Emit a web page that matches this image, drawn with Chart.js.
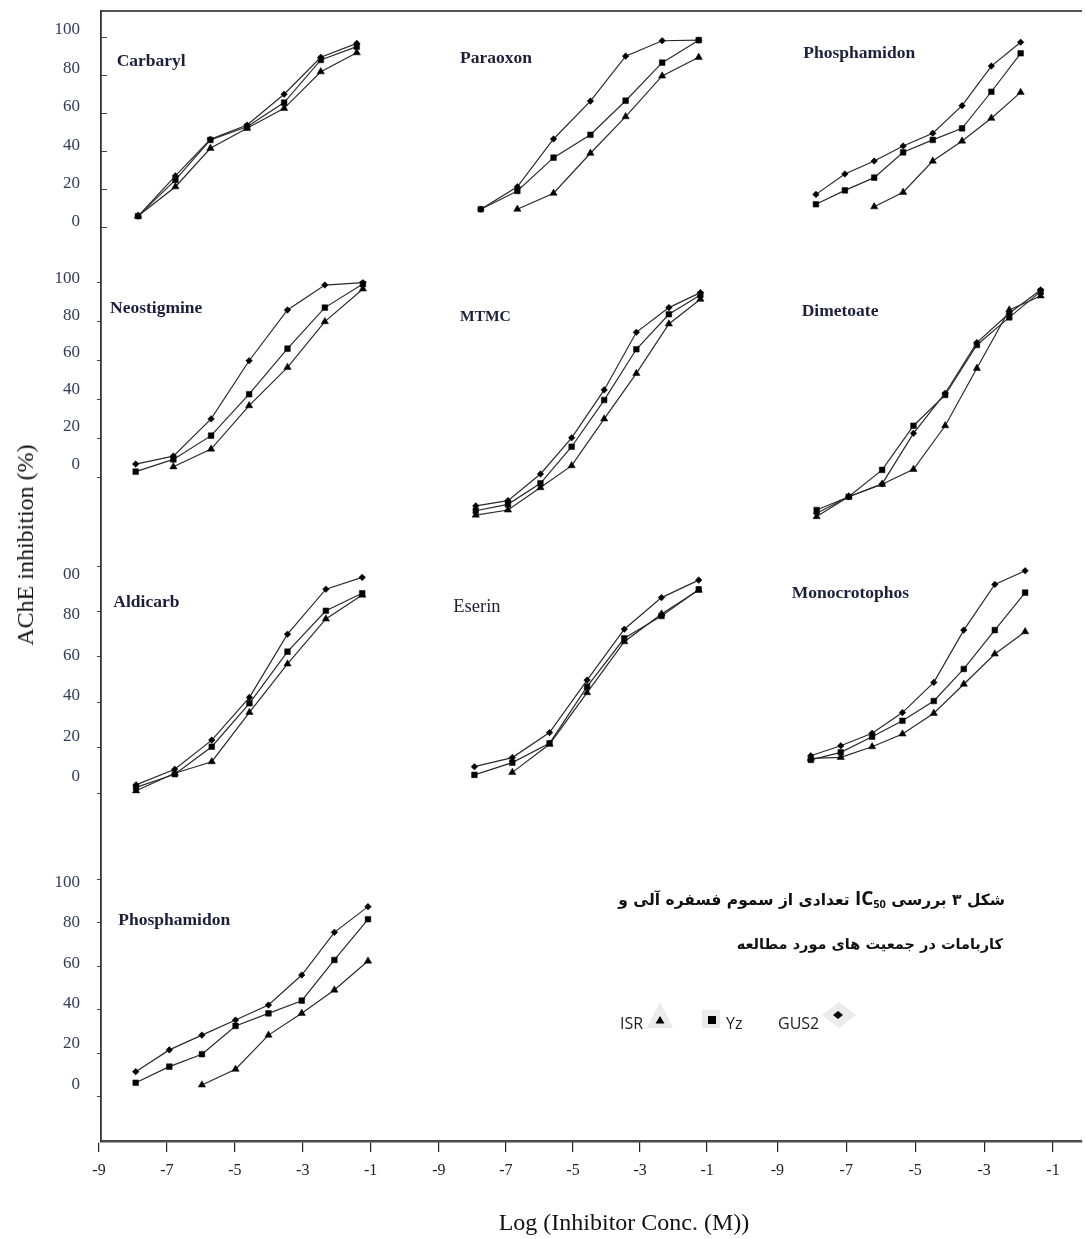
<!DOCTYPE html>
<html>
<head>
<meta charset="utf-8">
<script src="https://cdn.jsdelivr.net/npm/chart.js@4.4.1/dist/chart.umd.min.js"></script>
<style>
html,body{margin:0;padding:0;background:#fff;}
#wrap{position:relative;width:1086px;height:1239px;overflow:hidden;background:#fff;}
#c{position:absolute;left:0;top:0;}
.pname{position:absolute;font-family:"Liberation Serif","Times New Roman",serif;font-weight:bold;font-size:17.5px;color:#1b1f3b;line-height:1;transform:translateY(-50%);white-space:nowrap;}
.axtitle{position:absolute;font-family:"Liberation Serif","Times New Roman",serif;font-size:24px;color:#111;line-height:1;white-space:nowrap;transform:translate(-50%,-50%);}
.caption{position:absolute;right:81px;font-family:"DejaVu Sans",sans-serif;font-weight:bold;color:#111;direction:rtl;white-space:nowrap;line-height:1;transform:translateY(-50%);}
.caption .ic{font-family:"Open Sans","DejaVu Sans",sans-serif;font-weight:bold;font-size:19px;}
.caption sub{font-family:"Open Sans",sans-serif;font-size:11px;font-weight:bold;vertical-align:-3px;}
.leg{position:absolute;font-family:"Open Sans",sans-serif;font-size:16px;color:#222;line-height:1;transform:translateY(-50%);white-space:nowrap;}
.mk{position:absolute;}
</style>
</head>
<body>
<div id="wrap">
<canvas id="c" width="1086" height="1239"></canvas>
</div>
<script>
// ---------------- DATA ----------------
const seriesNames = ['GUS2', 'Yz', 'ISR'];
const panelNames = ['Carbaryl', 'Paraoxon', 'Phosphamidon', 'Neostigmine', 'MTMC', 'Dimetoate',
                    'Aldicarb', 'Eserin', 'Monocrotophos', 'Phosphamidon'];
const xTickValues = [-9, -7, -5, -3, -1];
const yTickValues = [0, 20, 40, 60, 80, 100];
const yTickLabels = ['0', '20', '40', '60', '80', '100'];
const yTickLabelsRow3 = ['0', '20', '40', '60', '80', '00'];
const xAxisTitle = 'Log (Inhibitor Conc. (M))';
const yAxisTitle = 'AChE inhibition (%)';
const captionLine1Right = 'شکل ۳ بررسی';
const captionLine1Left = 'تعدادی از سموم فسفره آلی و';
const captionLine2 = 'کاربامات در جمعیت های مورد مطالعه';

// log(inhibitor conc.) and % inhibition per panel
const carbarylConc = [-7.85, -6.75, -5.72, -4.64, -3.55, -2.47, -1.41];
const carbarylGUS2 = [6.1, 27.2, 46.4, 53.9, 70.1, 89.5, 96.8];
const carbarylYz   = [6.1, 25.1, 46.1, 53.0, 65.7, 88.1, 95.1];
const carbarylISR  = [6.1, 21.5, 41.7, 52.2, 62.7, 81.9, 91.9];

const paraoxonConc = [-7.75, -6.66, -5.58, -4.48, -3.43, -2.34, -1.25];
const paraoxonGUS2 = [9.7, 21.5, 46.6, 66.5, 90.1, 98.2, 98.5];
const paraoxonYz   = [9.7, 19.3, 36.8, 48.8, 66.7, 86.7, 98.5];
const paraoxonISR  = [null, 9.7, 18.1, 39.1, 58.3, 79.7, 89.5];

const phosphamidonAConc = [-7.88, -7.04, -6.19, -5.35, -4.49, -3.64, -2.79, -1.94];
const phosphamidonAGUS2 = [17.5, 28.2, 35.0, 42.9, 49.6, 64.1, 84.9, 97.4];
const phosphamidonAYz   = [12.3, 19.6, 26.3, 39.6, 46.1, 52.2, 71.4, 91.6];
const phosphamidonAISR  = [null, null, 11.0, 18.6, 35.0, 45.5, 57.5, 71.1];

const neostigmineConc = [-7.92, -6.81, -5.70, -4.58, -3.45, -2.35, -1.23];
const neostigmineGUS2 = [6.8, 10.9, 30.0, 59.9, 86.0, 98.8, 100.0];
const neostigmineYz   = [2.9, 9.2, 21.4, 42.7, 66.1, 87.2, 99.3];
const neostigmineISR  = [null, 5.4, 14.5, 36.8, 56.5, 80.0, 96.8];

const mtmcConc = [-7.90, -6.94, -5.97, -5.04, -4.07, -3.11, -2.14, -1.20];
const mtmcGUS2 = [-14.7, -12.0, 1.7, 20.3, 44.9, 74.5, 87.2, 94.9];
const mtmcYz   = [-17.2, -13.9, -3.1, 15.7, 39.7, 65.8, 83.8, 93.7];
const mtmcISR  = [-19.4, -16.8, -5.3, 6.0, 30.0, 53.4, 78.8, 91.5];

const dimetoateConc = [-7.86, -6.93, -5.96, -5.05, -4.13, -3.21, -2.27, -1.36];
const dimetoateGUS2 = [-18.5, -10.0, -3.4, 22.6, 43.2, 69.2, 84.3, 96.3];
const dimetoateYz   = [-16.8, -10.0, 3.8, 26.5, 42.3, 68.0, 82.2, 95.4];
const dimetoateISR  = [-20.2, -10.0, -3.6, 4.1, 26.5, 56.0, 86.0, 93.2];

const aldicarbConc = [-7.91, -6.77, -5.68, -4.57, -3.45, -2.32, -1.25];
const aldicarbGUS2 = [3.7, 10.6, 23.4, 42.2, 70.0, 89.8, 95.0];
const aldicarbYz   = [2.6, 8.4, 20.5, 39.6, 62.3, 80.3, 88.0];
const aldicarbISR  = [1.1, 8.8, 13.9, 35.6, 56.9, 76.7, 87.2];

const eserinConc = [-7.94, -6.81, -5.70, -4.58, -3.47, -2.36, -1.25];
const eserinGUS2 = [11.7, 15.7, 26.7, 49.8, 72.2, 86.1, 93.8];
const eserinYz   = [8.1, 13.5, 22.0, 46.9, 68.2, 78.0, 89.7];
const eserinISR  = [null, 9.2, 21.6, 44.3, 66.7, 78.9, 89.4];

const monocrotophosConc = [-8.03, -7.16, -6.25, -5.37, -4.46, -3.59, -2.69, -1.81];
const monocrotophosGUS2 = [16.5, 20.9, 26.4, 35.5, 48.8, 71.8, 91.9, 97.9];
const monocrotophosYz   = [14.7, 18.0, 24.9, 31.9, 40.6, 54.7, 71.8, 88.3];
const monocrotophosISR  = [15.4, 15.8, 20.5, 26.1, 35.2, 48.0, 61.3, 71.1];

const phosphamidonBConc = [-7.92, -6.93, -5.97, -4.98, -4.01, -3.03, -2.07, -1.08];
const phosphamidonBGUS2 = [11.5, 21.5, 28.3, 35.2, 42.1, 55.9, 75.5, 87.3];
const phosphamidonBYz   = [6.4, 13.8, 19.5, 32.5, 38.3, 44.1, 62.8, 81.5];
const phosphamidonBISR  = [null, null, 5.4, 12.6, 28.3, 38.3, 49.0, 62.3];

const panelData = [
  [carbarylConc, carbarylGUS2, carbarylYz, carbarylISR],
  [paraoxonConc, paraoxonGUS2, paraoxonYz, paraoxonISR],
  [phosphamidonAConc, phosphamidonAGUS2, phosphamidonAYz, phosphamidonAISR],
  [neostigmineConc, neostigmineGUS2, neostigmineYz, neostigmineISR],
  [mtmcConc, mtmcGUS2, mtmcYz, mtmcISR],
  [dimetoateConc, dimetoateGUS2, dimetoateYz, dimetoateISR],
  [aldicarbConc, aldicarbGUS2, aldicarbYz, aldicarbISR],
  [eserinConc, eserinGUS2, eserinYz, eserinISR],
  [monocrotophosConc, monocrotophosGUS2, monocrotophosYz, monocrotophosISR],
  [phosphamidonBConc, phosphamidonBGUS2, phosphamidonBYz, phosphamidonBISR]
];

// ---------------- LAYOUT ----------------
const AREA = {left: 101, top: 11, right: 1086, bottom: 1141};
const panelGrid = [[0,0],[0,1],[0,2],[1,0],[1,1],[1,2],[2,0],[2,1],[2,2],[3,0]]; // [row, col]
const colAnchors = [[99, 372], [440.5, 710], [780.6, 1057.6]];          // px of -9 and -1
const rowTickAnchors = [[227.7, 37.3], [477.3, 282.7], [793.3, 566], [1096.7, 879]]; // px of 0 and 100
const rowLabelAnchors = [[222, 30], [464.2, 278.2], [776.9, 574.5], [1084.1, 882.6]];
const rowTickLen = [-6, 4, 4, 4];
const titlePos = [[116.7,61],[460,58],[803.3,53],[110,307.5],[460,316],[801.7,311],[113.3,601.5],[453.3,606],[791.7,593],[118.3,920]];
const seriesStyle = {
  GUS2: {pointStyle: 'rectRot', radius: 3.3},
  Yz:   {pointStyle: 'rect', radius: 4.0},
  ISR:  {pointStyle: 'triangle', radius: 4.2}
};

function rangeFrom(v0, p0, v1, p1, pLow, pHigh) {
  const valAt = p => v0 + (p - p0) * (v1 - v0) / (p1 - p0);
  return [valAt(pLow), valAt(pHigh)];
}
function zeroPad(s) { s.paddingTop = 0; s.paddingBottom = 0; s.paddingLeft = 0; s.paddingRight = 0; }

const serif = '"Liberation Serif", "Times New Roman", serif';
const scales = {};
colAnchors.forEach((a, c) => {
  const [mn, mx] = rangeFrom(-9, a[0], -1, a[1], AREA.left, AREA.right);
  scales['x' + c] = {
    type: 'linear', position: 'bottom', min: mn, max: mx,
    afterFit: s => { s.height = 0; zeroPad(s); },
    afterBuildTicks: s => { s.ticks = xTickValues.map(v => ({value: v})); },
    ticks: {autoSkip: false, maxRotation: 0, padding: 9, color: '#222', font: {family: serif, size: 16}, callback: v => String(v)},
    grid: {drawOnChartArea: false, drawTicks: true, tickLength: 11, color: '#222', lineWidth: 1.2},
    border: {display: c === 0, color: '#4a4a4a', width: 2.5}
  };
});
scales.xt = {
  type: 'linear', position: 'top', min: 0, max: 1,
  afterFit: s => { s.height = 0; zeroPad(s); },
  ticks: {display: false},
  grid: {drawOnChartArea: false, drawTicks: false},
  border: {display: true, color: '#555', width: 2}
};
rowTickAnchors.forEach((a, r) => {
  const [mn, mx] = rangeFrom(0, a[0], 100, a[1], AREA.bottom, AREA.top);
  scales['y' + r] = {
    type: 'linear', position: 'left', min: mn, max: mx,
    afterFit: s => { s.width = 0; zeroPad(s); },
    afterBuildTicks: s => { s.ticks = yTickValues.map(v => ({value: v})); },
    ticks: {display: false},
    grid: {drawOnChartArea: false, drawTicks: true, tickLength: rowTickLen[r], color: '#444', lineWidth: 1},
    border: {display: r === 0, color: '#333', width: 1.8}
  };
});
rowLabelAnchors.forEach((a, r) => {
  const [mn, mx] = rangeFrom(0, a[0], 100, a[1], AREA.bottom, AREA.top);
  const labels = r === 2 ? yTickLabelsRow3 : yTickLabels;
  scales['yl' + r] = {
    type: 'linear', position: 'left', min: mn, max: mx,
    afterFit: s => { s.width = 0; zeroPad(s); },
    afterBuildTicks: s => { s.ticks = yTickValues.map(v => ({value: v})); },
    ticks: {autoSkip: false, padding: 21, color: '#2f3b58', font: {family: serif, size: 17},
            callback: (v, i) => labels[i]},
    grid: {display: false, drawTicks: false},
    border: {display: false}
  };
});

const datasets = [];
panelData.forEach((pd, i) => {
  const [row, col] = panelGrid[i];
  const conc = pd[0];
  seriesNames.forEach((name, k) => {
    const vals = pd[k + 1];
    const data = conc.map((x, j) => vals[j] == null ? null : {x: x, y: vals[j]}).filter(d => d);
    const st = seriesStyle[name];
    datasets.push({
      label: name + ' - ' + panelNames[i], data,
      xAxisID: 'x' + col, yAxisID: 'y' + row,
      showLine: true, borderColor: '#2b2b2b', borderWidth: 1.2,
      pointStyle: st.pointStyle, pointRadius: st.radius,
      pointBackgroundColor: '#000', pointBorderColor: '#000', pointBorderWidth: 0.5,
      fill: false, tension: 0
    });
  });
});

// zero-size axis boxes are widened before drawing so their tick labels are not clipped
const labelRoomPlugin = {
  id: 'labelRoom',
  beforeDraw(chart) {
    Object.values(chart.scales).forEach(s => {
      if (s.id.indexOf('yl') === 0) { s.left = 0; }
      if (/^x\d$/.test(s.id)) { s.bottom = chart.height; }
    });
  }
};

new Chart(document.getElementById('c'), {
  type: 'scatter',
  data: {datasets},
  plugins: [labelRoomPlugin],
  options: {
    responsive: false, animation: false, events: [], devicePixelRatio: 1,
    layout: {padding: {left: AREA.left, top: AREA.top, right: 1086 - AREA.right, bottom: 1239 - AREA.bottom}},
    plugins: {legend: {display: false}, tooltip: {enabled: false}, title: {display: false}},
    scales
  }
});

// ---------------- HTML TEXT ----------------
const wrap = document.getElementById('wrap');
function addDiv(cls, html, style) {
  const d = document.createElement('div');
  d.className = cls; d.innerHTML = html;
  Object.assign(d.style, style);
  wrap.appendChild(d);
  return d;
}
panelNames.forEach((n, i) => {
  const st = {left: titlePos[i][0] + 'px', top: titlePos[i][1] + 'px'};
  if (n === 'MTMC') st.fontSize = '15.5px';
  if (n === 'Eserin') { st.fontWeight = 'normal'; st.fontSize = '18.5px'; }
  addDiv('pname', n, st);
});
addDiv('axtitle', xAxisTitle, {left: '624px', top: '1222px'});
addDiv('axtitle', yAxisTitle, {left: '25px', top: '545px', transform: 'translate(-50%,-50%) rotate(-90deg)'});
addDiv('caption', captionLine1Right + ' <span dir="ltr"><span class="ic">IC</span><sub>50</sub></span> ' + captionLine1Left, {top: '899px', fontSize: '15.5px'});
addDiv('caption', captionLine2, {top: '944px', fontSize: '14.5px', right: '83px'});

// legend (markers + series names)
const legendItems = [
  {name: 'ISR', textX: 620, textY: 1023, svg: '<svg width="28" height="28"><polygon points="14,1 27,27 1,27" fill="#ebebeb"/><polygon points="14,15 18.5,22.5 9.5,22.5" fill="#000"/></svg>', mx: 646, my: 1001},
  {name: 'Yz', textX: 726, textY: 1023, svg: '<svg width="18" height="18"><rect x="0" y="0" width="18" height="18" fill="#ebebeb"/><rect x="6" y="6" width="8" height="8" fill="#000"/></svg>', mx: 701.5, my: 1010},
  {name: 'GUS2', textX: 778, textY: 1023, svg: '<svg width="34" height="26"><polygon points="17,0 34,13 17,26 0,13" fill="#ebebeb"/><polygon points="16,9 21,13 16,17 11,13" fill="#000"/></svg>', mx: 822, my: 1001.5}
];
legendItems.forEach(it => {
  addDiv('mk', it.svg, {left: it.mx + 'px', top: it.my + 'px'});
  addDiv('leg', it.name, {left: it.textX + 'px', top: it.textY + 'px'});
});
</script>
</body>
</html>
